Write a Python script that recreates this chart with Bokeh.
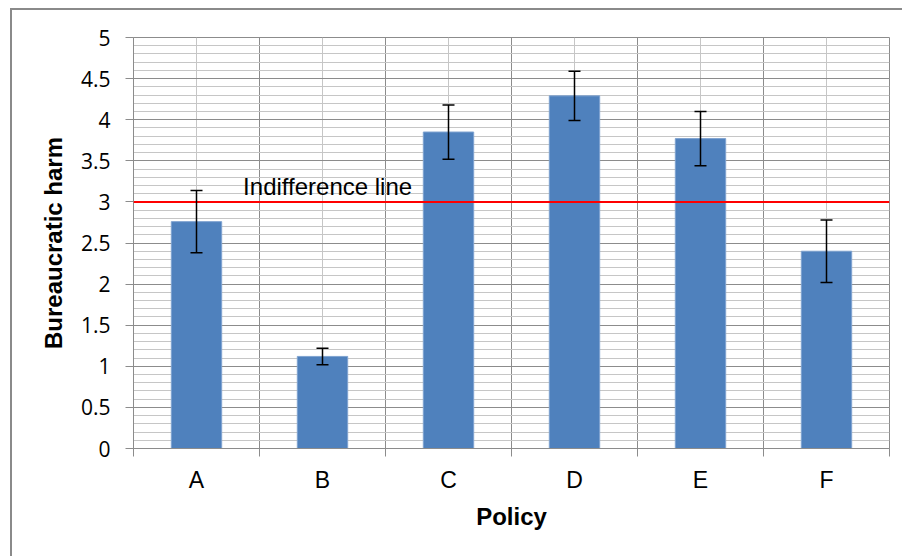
from bokeh.plotting import figure
from bokeh.models import (ColumnDataSource, Whisker, TeeHead, Span, Label,
                          FixedTicker, Range1d)
from bokeh.embed import file_html
from bokeh.resources import INLINE

# ---- data ----
categories = ["A", "B", "C", "D", "E", "F"]
means = [2.76, 1.12, 3.85, 4.29, 3.77, 2.40]
errors = [0.38, 0.10, 0.33, 0.30, 0.33, 0.38]
y_ticks = [0, 0.5, 1, 1.5, 2, 2.5, 3, 3.5, 4, 4.5, 5]
y_tick_labels = ["0", "0.5", "1", "1.5", "2", "2.5", "3", "3.5", "4", "4.5", "5"]
indifference_level = 3
indifference_text = "Indifference line"

x_pos = [i + 0.5 for i in range(len(categories))]
src = ColumnDataSource(dict(
    x=x_pos, top=means,
    upper=[m + e for m, e in zip(means, errors)],
    lower=[m - e for m, e in zip(means, errors)],
))

DARK = "#8c8c8c"
LIGHT = "#c6c6c6"

p = figure(frame_width=756, frame_height=411,
           min_border_left=121, min_border_top=27,
           min_border_right=13, min_border_bottom=108,
           x_range=Range1d(0, len(categories)), y_range=Range1d(0, 5),
           output_backend="svg", toolbar_location=None)
p.margin = (8, 0, 0, 10)
p.styles = {"border-left": "2px solid #8a8a8a", "border-top": "2px solid #8a8a8a"}
p.background_fill_color = "white"
p.border_fill_color = "white"
p.outline_line_color = DARK

p.vbar(x="x", top="top", width=0.4, source=src, fill_color="#4F81BD",
       line_color="#7fa3d0", line_width=1)

head = dict(size=12, line_color="black", line_width=1.5)
p.add_layout(Whisker(source=src, base="x", upper="upper", lower="lower",
                     line_color="black", line_width=1.5, level="overlay",
                     upper_head=TeeHead(**head), lower_head=TeeHead(**head)))

p.add_layout(Span(location=indifference_level, dimension="width",
                  line_color="#ff0000", line_width=2))
p.add_layout(Label(x=0.87, y=indifference_level + 0.19, text=indifference_text,
                   text_font="Liberation Sans", text_font_size="24px",
                   text_baseline="alphabetic", text_color="black"))

# y axis
p.yaxis.ticker = FixedTicker(ticks=y_ticks, minor_ticks=[i / 10 for i in range(51)])
p.yaxis.major_label_overrides = {t: l for t, l in zip(y_ticks, y_tick_labels)}
p.yaxis.axis_label = "Bureaucratic harm"
p.yaxis.major_tick_out = 8
p.yaxis.major_tick_in = 0
p.yaxis.minor_tick_out = 0
p.yaxis.minor_tick_in = 0
p.yaxis.major_label_standoff = 15
p.yaxis.axis_label_standoff = 11

# x axis
p.xaxis.ticker = FixedTicker(ticks=x_pos, minor_ticks=list(range(len(categories) + 1)))
p.xaxis.major_label_overrides = {x: c for x, c in zip(x_pos, categories)}
p.xaxis.axis_label = "Policy"
p.xaxis.major_tick_out = 0
p.xaxis.major_tick_in = 0
p.xaxis.minor_tick_out = 8
p.xaxis.minor_tick_in = 0
p.xaxis.major_label_standoff = 10
p.xaxis.axis_label_standoff = 7

for ax in (p.xaxis, p.yaxis):
    ax.axis_line_color = DARK
    ax.major_tick_line_color = DARK
    ax.minor_tick_line_color = DARK
    ax.major_label_text_color = "black"
    ax.axis_label_text_color = "black"
    ax.axis_label_text_font = "Liberation Sans"
    ax.axis_label_text_font_style = "bold"
    ax.axis_label_text_font_size = "24px"

p.yaxis.major_label_text_font = "Open Sans"
p.yaxis.major_label_text_font_size = "21px"
p.xaxis.major_label_text_font = "Liberation Sans"
p.xaxis.major_label_text_font_size = "23px"

p.xgrid.grid_line_color = LIGHT
p.xgrid.minor_grid_line_color = DARK
p.ygrid.grid_line_color = DARK
p.ygrid.minor_grid_line_color = LIGHT

open("out.html", "w").write(file_html(p, INLINE))
